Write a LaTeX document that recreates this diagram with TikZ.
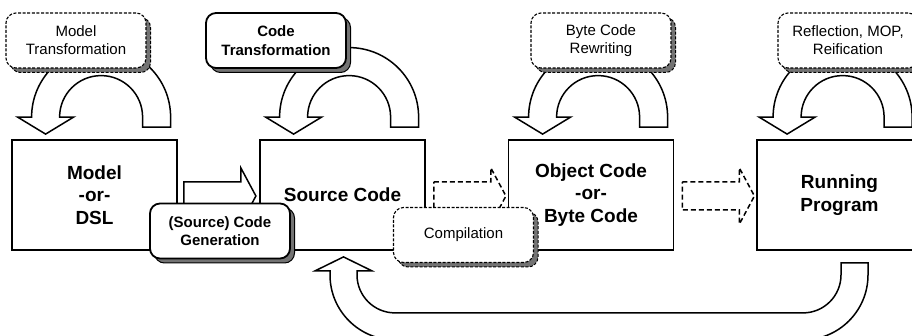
\documentclass[tikz,border=0pt]{standalone}
\usepackage{fontspec}
\setmainfont{Liberation Sans}
\usetikzlibrary{shadows,calc}

% U-shaped block arrow that leaves a stage and comes back into it from above;
% #1 is the centre of its arcs
\newcommand\selfloop[1]{%
  \draw[blockarrow] ($(#1)+(69.5,10)$) -- ($(#1)+(69.5,0)$)
    arc[start angle=0, end angle=-180, radius=69.5]
    -- ($(#1)+(-83.5,0)$) -- ($(#1)+(-55.5,17)$) -- ($(#1)+(-27.5,0)$)
    -- ($(#1)+(-41.5,0)$)
    arc[start angle=180, end angle=360, radius=41.5]
    -- ($(#1)+(41.5,10)$) -- cycle;}

% straight block arrow pointing right; #2 is the middle of its tail end
\newcommand\stepright[2]{%
  \draw[#1] ($(#2)+(0,-14)$) -- ($(#2)+(57,-14)$) -- ($(#2)+(57,-28)$)
    -- ($(#2)+(72,0)$) -- ($(#2)+(57,28)$) -- ($(#2)+(57,14)$)
    -- ($(#2)+(0,14)$) -- cycle;}

\begin{document}
\begin{tikzpicture}[x=1pt, y=-1pt,
  stage/.style={draw, line width=1.8pt, fill=white, minimum width=165pt,
    minimum height=110pt, align=center, inner sep=0pt,
    font=\fontsize{19}{22.5}\selectfont\bfseries},
  tagbase/.style={rounded corners=10pt, fill=white, minimum width=140pt,
    minimum height=55pt, align=center, inner sep=0pt},
  soltag/.style={tagbase, draw, line width=1.8pt,
    font=\fontsize{15}{18.5}\selectfont\bfseries,
    drop shadow={shadow xshift=4.5pt, shadow yshift=-4.5pt, opacity=1,
      fill=black!55, draw=black, line width=1pt}},
  dashtag/.style={tagbase, draw, line width=1.1pt, dash pattern=on 3pt off 1.6pt,
    font=\fontsize{15}{18}\selectfont,
    drop shadow={shadow xshift=4.5pt, shadow yshift=-4.5pt, opacity=1,
      fill=black!55, draw=black, line width=1pt, dash pattern=on 3pt off 1.6pt}},
  blockarrow/.style={draw, line width=1.5pt, fill=white, line join=miter},
  dasharrow/.style={blockarrow, dash pattern=on 5pt off 3pt}
]
\useasboundingbox (0,0) rectangle (912,336);
\clip (0,0) rectangle (912,336);

% the four stages
\node[stage] (model)   at (94.5,195)  {Model\\-or-\\DSL};
\node[stage] (source)  at (342.5,195) {Source Code};
\node[stage] (object)  at (591,195)   {Object Code\\-or-\\Byte Code};
\node[stage] (running) at (839.5,195) {Running\\Program};

% arrows from one stage to the next
\coordinate (a1) at ($(model.east)+(6,1)$);
\coordinate (a2) at ($(source.east)+(8,1)$);
\coordinate (a3) at ($(object.east)+(8,1)$);
\stepright{blockarrow}{a1}
\stepright{dasharrow}{a2}
\stepright{dasharrow}{a3}

% transformations within a stage
\coordinate (p1) at ($(model.north west)+(90,-22)$);
\coordinate (p2) at ($(source.north west)+(90,-22)$);
\coordinate (p3) at ($(object.north west)+(90.5,-22)$);
\coordinate (p4) at ($(running.north west)+(86.5,-22)$);
\selfloop{p1}
\selfloop{p2}
\selfloop{p3}
\selfloop{p4}

% feedback from the running program to the source code
\coordinate (lc) at ($(source.south)+(52.5,24)$);
\coordinate (rc) at ($(running.south)+(-36.5,24)$);
\coordinate (tip) at ($(source.south)+(1,6)$);
\draw[blockarrow] ($(rc)+(38,-12)$) -- ($(rc)+(65,-12)$) -- ($(rc)+(65,0)$)
  arc[start angle=0, end angle=90, radius=65]
  -- ($(lc)+(0,65)$)
  arc[start angle=90, end angle=180, radius=65]
  -- ($(lc)+(-65,-4)$) -- ($(tip)+(-28.5,14)$) -- (tip) -- ($(tip)+(28.5,14)$)
  -- ($(lc)+(-38,-4)$) -- ($(lc)+(-38,0)$)
  arc[start angle=180, end angle=90, radius=38]
  -- ($(rc)+(0,38)$)
  arc[start angle=90, end angle=0, radius=38]
  -- cycle;

% technique labels
\node[dashtag] (mt)  at (76,40.5)   {Model\\Transformation};
\node[soltag]  (ct)  at (276,40.5)  {Code\\Transformation};
\node[dashtag] (bc)  at (601,40.5)  {Byte Code\\Rewriting};
\node[dashtag] (rf)  at (848,40.5)  {Reflection, MOP,\\Reification};
\node[soltag]  (gen) at (220,231)   {(Source) Code\\Generation};
\node[dashtag] (cmp) at (463.5,235) {Compilation};
\end{tikzpicture}
\end{document}
